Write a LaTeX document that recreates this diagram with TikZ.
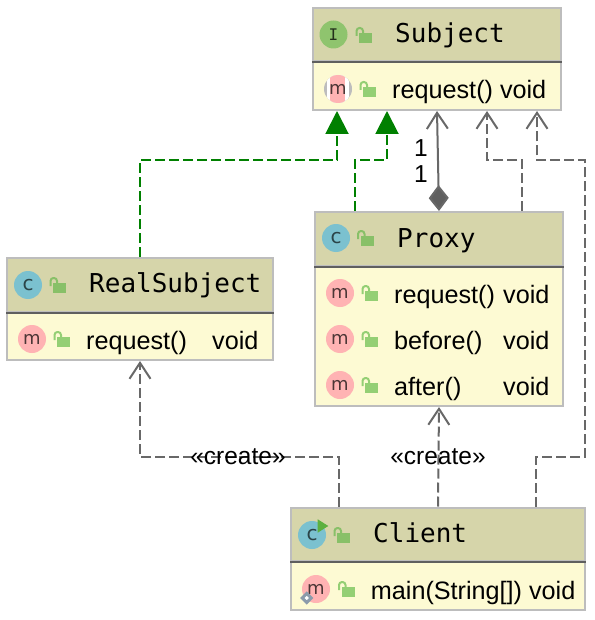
\documentclass[tikz,border=0pt]{standalone}
\usepackage{xcolor}
\usepackage{fontspec}
\setmainfont{Liberation Sans}
\newfontfamily\titlefont{DejaVu Sans Mono}
\newfontfamily\iconfont{DejaVu Sans}
\usepackage{tikz}
\usetikzlibrary{arrows.meta,positioning,calc}
\definecolor{headfill}{HTML}{D6D5AA}
\definecolor{bodyfill}{HTML}{FDFAD3}
\definecolor{frame}{HTML}{BDBDBD}
\definecolor{rule}{HTML}{5F5F5F}
\definecolor{link}{HTML}{686868}
\definecolor{realize}{HTML}{008000}
\definecolor{iconi}{HTML}{8FC46E}
\definecolor{iconc}{HTML}{7BC1CF}
\definecolor{iconm}{HTML}{FFB3B3}
\definecolor{lockhead}{HTML}{88C068}
\definecolor{lockmember}{HTML}{94CF74}
\definecolor{runmark}{HTML}{5CB03F}
\definecolor{pinmark}{HTML}{8B9BAB}
\tikzset{
  headbox/.style={rectangle,draw=frame,line width=2pt,fill=headfill,minimum height=53.5pt},
  bodybox/.style={rectangle,draw=frame,line width=2pt,fill=bodyfill,minimum height=48.5pt},
  titletext/.style={anchor=base west,inner sep=0pt,font=\titlefont\fontsize{26}{28}\selectfont},
  membertext/.style={anchor=base west,inner sep=0pt,font=\fontsize{25.2}{28}\selectfont},
  labeltext/.style={inner sep=0pt,font=\fontsize{24.5}{28}\selectfont},
  icon/.style={circle,inner sep=0pt,minimum size=28pt,font=\iconfont\fontsize{18}{20}\selectfont},
  iconclass/.style={icon,fill=iconc,text=black!65!iconc,font=\iconfont\fontsize{20}{22}\selectfont},
  iconmethod/.style={icon,fill=iconm,text=black!70!iconm},
  iconface/.style={icon,fill=iconi,text=black!75!iconi,font=\titlefont\fontsize{16}{18}\selectfont},
  headlock/.style={draw=lockhead,fill=lockhead},
  memberlock/.style={draw=lockmember,fill=lockmember},
  implements/.style={draw=realize,line width=2pt,dash pattern=on 10pt off 4pt,
    -{Triangle[length=23pt,width=23pt,fill=realize]}},
  uses/.style={draw=link,line width=2pt,dash pattern=on 10pt off 4pt,
    -{Straight Barb[length=16pt,width=21pt]}},
  holds/.style={draw=link,line width=2pt,
    {Diamond[length=26pt,width=20pt,fill=rule]}-{Straight Barb[length=16pt,width=21pt]}},
  lock/.pic={
    \path[pic actions,draw=none] (-6.5,-5) rectangle (6.5,5);
    \path[pic actions,fill=none,line width=2pt,rounded corners=3pt] (-9,-2) -- (-9,-10) -- (-2.5,-10) -- (-2.5,-5);
  }
}
\begin{document}
\begin{tikzpicture}[x=1pt,y=-1pt]
  \useasboundingbox (0,0) rectangle (594,620);
  % boxes
  \node[headbox,minimum width=248pt] (subject) at (437,34.75) {};
  \node[bodybox,minimum width=248pt,below=-2pt of subject] (subjectbody) {};
  \node[headbox,minimum width=266pt] (realsubject) at (140,284.75) {};
  \node[bodybox,minimum width=266pt,below=-2pt of realsubject] (realbody) {};
  \node[headbox,minimum width=248pt] (proxy) at (439,238.75) {};
  \node[bodybox,minimum width=248pt,minimum height=140.5pt,below=-2pt of proxy] (proxybody) {};
  \node[headbox,minimum width=294pt] (client) at (438,534.25) {};
  \node[bodybox,minimum width=294pt,below=-2pt of client] (clientbody) {};
  \draw[rule,line width=2pt] (subject.south west) -- (subject.south east);
  \draw[rule,line width=2pt] (realsubject.south west) -- (realsubject.south east);
  \draw[rule,line width=2pt] (proxy.south west) -- (proxy.south east);
  \draw[rule,line width=2pt] (client.south west) -- (client.south east);
  % Subject
  \node[iconface] (subjecticon) at (333.5,34.5) {I};
  \pic[headlock] at (365.5,38) {lock};
  \node[titletext] (subjecttitle) at (395,43) {Subject};
  \fill[frame] (338,89) circle (14);
  \begin{scope}
    \clip (338,89) circle (14);
    \fill[white] (327,75) rectangle (349,103);
    \fill[iconm] (330,75) rectangle (345,103);
  \end{scope}
  \node[icon,minimum size=0pt,text=black!70!iconm] (subjectm) at (338,89) {m};
  \pic[memberlock] at (369.5,92) {lock};
  \node[membertext] (subjectrequest) at (392,99) {request() void};
  % RealSubject
  \node[iconclass] (realicon) at (28,285) {c};
  \pic[headlock] at (59.5,288) {lock};
  \node[titletext] (realtitle) at (89,292.7) {RealSubject};
  \node[iconmethod] (realm) at (32,339) {m};
  \pic[memberlock] at (63.5,342) {lock};
  \node[membertext] (realrequest) at (86,349) {request()};
  \node[membertext] (realvoid) at (212,349) {void};
  % Proxy
  \node[iconclass] (proxyicon) at (336,238) {c};
  \pic[headlock] at (367,241) {lock};
  \node[titletext] (proxytitle) at (397,247) {Proxy};
  \node[iconmethod] (proxym) at (340,293) {m};
  \pic[memberlock] at (371.5,296) {lock};
  \node[membertext] (proxyrequest) at (394,303) {request()};
  \node[membertext] (proxyvoid) at (503,303) {void};
  \node[iconmethod] (beforem) at (340,339) {m};
  \pic[memberlock] at (371.5,342) {lock};
  \node[membertext] (proxybefore) at (394,349) {before()};
  \node[membertext] (beforevoid) at (503,349) {void};
  \node[iconmethod] (afterm) at (340,385) {m};
  \pic[memberlock] at (371.5,388) {lock};
  \node[membertext] (proxyafter) at (394,395) {after()};
  \node[membertext] (aftervoid) at (503,395) {void};
  % Client
  \node[iconclass] (clienticon) at (312,535) {c};
  \fill[runmark] (317.7,519.3) -- (317.7,532.7) -- (328.3,526) -- cycle;
  \pic[headlock] at (343.5,538) {lock};
  \node[titletext] (clienttitle) at (373,542.6) {Client};
  \node[iconmethod] (clientm) at (316,589) {m};
  \draw[pinmark,line width=3pt,fill=white] (306.7,593.5) -- (311.2,598) -- (306.7,602.5) -- (302.2,598) -- cycle;
  \pic[memberlock] at (348,592) {lock};
  \node[membertext] (clientmain) at (370.7,599) {main(String[]) void};
  % connectors
  \draw[implements] (realsubject.north) -- ++(0,-97) -| ([xshift=-100pt]subjectbody.south);
  \draw[implements] ([xshift=-84pt]proxy.north) -- ++(0,-51) -| ([xshift=-50pt]subjectbody.south);
  \draw[holds] (proxy.north) -- (subjectbody.south);
  \draw[uses] ([xshift=83pt]proxy.north) -- ++(0,-51) -| ([xshift=50pt]subjectbody.south);
  \draw[uses] ([xshift=98pt]client.north) -- ++(0,-50) -- ++(49,0) -- ++(0,-296) -| ([xshift=100pt]subjectbody.south);
  \draw[uses] ([xshift=-99pt]client.north) -- ++(0,-50) -| (realbody.south);
  \draw[uses] (client.north) -- (proxybody.south);
  % labels
  \node[labeltext] (one) at (421,148) {1};
  \node[labeltext] (other) at (421,174) {1};
  \node[labeltext] (createreal) at (238,457) {«create»};
  \node[labeltext] (createproxy) at (438,457) {«create»};
\end{tikzpicture}
\end{document}
